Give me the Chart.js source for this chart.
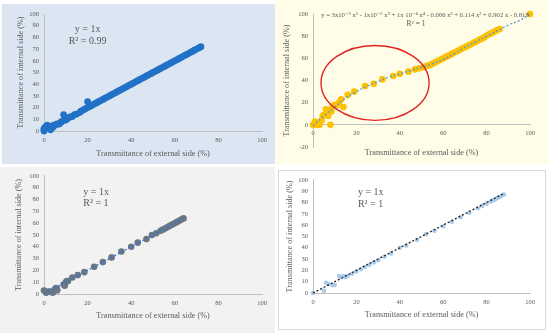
<!DOCTYPE html>
<html>
<head>
<meta charset="utf-8">
<script src="https://cdn.jsdelivr.net/npm/chart.js@4"></script>
<style>
  body { margin: 0; width: 550px; height: 335px; background: #fff; position: relative; overflow: hidden; }
  .panel { position: absolute; box-sizing: border-box; }
  .panel canvas { position: absolute; left: 0; top: 0; }
</style>
</head>
<body>
<div class="panel" style="left:2px;top:4px;width:273px;height:160px;background:#dce6f2;"><canvas id="c1" width="273" height="160"></canvas></div>
<div class="panel" style="left:275px;top:0px;width:273px;height:164px;background:#fffde8;"><canvas id="c2" width="273" height="164"></canvas></div>
<div class="panel" style="left:0px;top:167px;width:275px;height:166px;background:#f2f2f2;"><canvas id="c3" width="275" height="166"></canvas></div>
<div class="panel" style="left:278px;top:170px;width:268px;height:160px;background:#fff;border:1px solid #d9d9d9;"><canvas id="c4" width="266" height="158"></canvas></div>
<script>
// panel 1 (blue background)
const p1Ext = [0, 0, 0, 0.5, 1, 1.5, 2, 2.5, 3, 3, 3.5, 4, 4.5, 5, 6, 7, 7.5, 8, 9, 9, 10, 11, 12, 13, 14, 15, 16.5, 17, 18, 19, 20, 20, 21,
  22, 23, 24, 25, 26, 27, 28, 29, 30, 31, 32, 33, 34, 35, 36, 37, 38, 39, 40, 41, 42, 43, 44, 45, 46, 47,
  48, 49, 50, 51, 52, 53, 54, 55, 56, 57, 58, 59, 60, 61, 62, 63, 64, 65, 66, 67, 68, 69, 70, 71, 72];
const p1Int = [0, 1, 2, 3, 4, 5, 3, 4, 1, 2, 4, 3, 5, 5, 6, 6, 7, 8, 14, 9, 9.5, 11, 12, 12.5, 14, 14.5, 16, 17, 18, 19, 25, 20, 21,
  22, 23, 24, 25, 26, 27, 28, 29, 30, 31, 32, 33, 34, 35, 36, 37, 38, 39, 40, 41, 42, 43, 44, 45, 46, 47,
  48, 49, 50, 51, 52, 53, 54, 55, 56, 57, 58, 59, 60, 61, 62, 63, 64, 65, 66, 67, 68, 69, 70, 71, 72];

// panel 2 (yellow background)
const p2Ext = [0, 1, 1.5, 2, 2.5, 3, 4, 4.5, 5, 6, 6.5, 7, 7.5, 8, 8.5, 9, 9.5, 10, 11, 12, 13, 14, 16, 19, 24, 28, 32, 37, 40, 44, 47, 49, 51, 52,
  53, 54, 55, 56, 57, 58, 59, 60, 61, 62, 63, 64, 65, 66, 67, 68, 69, 70, 71, 72, 73, 74, 75, 76, 77, 78, 79, 80, 81, 82, 83, 84, 85, 86, 100];
const p2Int = [0, 3, 0, 0, 1, 0, 4, 8, 9, 14, 12, 8, 13, 0, 12, 16, 17, 18, 18, 20, 23, 16, 27, 30, 35, 37, 41, 44, 46, 48, 50, 51, 52, 53,
  53.5, 54, 55, 56, 57, 58, 59, 60, 61, 62, 63, 64, 65, 66, 67, 68, 69, 70, 71, 72, 73, 74, 75, 76, 77, 78, 79, 80.5, 81.5, 82.5, 83.5, 84.5, 85.5, 86.5, 100];
const p2TrendExt = [0, 5, 10, 15, 20, 25, 30, 35, 40, 45, 50, 55, 60, 65, 70, 75, 80, 85, 90, 95, 100];
const p2TrendInt = [-1, 8, 16, 24, 30, 35, 39, 43, 46, 49, 52, 55, 59, 64, 70, 75, 80, 85, 90, 94, 100];

// panel 3 (grey background)
const p3Ext = [0, 1, 2, 3, 4, 5, 5.5, 6, 6, 9, 9.5, 10, 10.5, 11, 13, 15.5, 18.5, 23, 27, 31, 35.5, 40, 43, 47, 49.5, 51.5,
  53.5, 54.5, 55.5, 56.5, 57.5, 58.5, 59.5, 60.5, 61, 62, 63, 64];
const p3Int = [3, 1, 2, 2, 1, 4, 5, 3, 4, 8, 7, 10, 11, 11, 14, 16, 18.5, 23, 27, 31, 36, 40, 43.5, 46.5, 50, 51.5,
  53.5, 54.5, 55.5, 56.5, 57.5, 58.5, 59.5, 60.5, 61, 62, 63, 64];
const p3TrendExt = [0, 64];
const p3TrendInt = [0, 64];

// panel 4 (white background)
const p4Ext = [0, 5, 6, 7, 9, 10, 12, 13, 14, 15, 16, 18, 20, 22, 24, 26, 28, 30, 33, 36, 40, 43, 48, 52, 56, 60, 64, 68, 72, 76, 78, 80, 82, 83, 84, 85, 86, 87, 88];
const p4Int = [0, 2, 9, 8, 7, 7, 15, 14, 15, 14, 15, 17, 19, 21, 23, 25, 27, 29, 32, 35, 40, 42, 47, 52, 55, 59, 63, 67, 71, 75, 77, 79, 81, 82, 83, 84, 85, 86, 87];
const p4TrendExt = [0, 88];
const p4TrendInt = [0, 88];

const xTitle = "Transmittance of external side (%)";
const yTitle = "Transmittance of internal side (%)";
const eqText = "y = 3x10⁻⁹ x⁶ - 1x10⁻⁶ x⁵ + 1x 10⁻⁴ x⁴ - 0.006 x³ + 0.114 x² + 0.902 x - 0.818";

const SERIF = "'Liberation Serif', 'DejaVu Serif', serif";
const GREY = "#595959";
const AXIS = "#bfbfbf";

const toPoints = (xs, ys) => xs.map((x, i) => ({ x, y: ys[i] }));

const noteText = (notes) => ({
  id: "notes",
  afterDatasetsDraw(chart) {
    const { ctx, scales } = chart;
    ctx.save();
    ctx.fillStyle = GREY;
    ctx.textBaseline = "middle";
    notes.forEach((n) => {
      ctx.font = `${n.size}px ${SERIF}`;
      if (n.width) {
        const w = ctx.measureText(n.text).width;
        ctx.font = `${n.size * n.width / w}px ${SERIF}`;
      }
      ctx.textAlign = n.align || "center";
      ctx.fillText(n.text, scales.x.getPixelForValue(n.x), scales.y.getPixelForValue(n.y));
    });
    ctx.restore();
  },
});

const ellipse = (cx, cy, rx, ry) => ({
  id: "ellipse",
  afterDatasetsDraw(chart) {
    const { ctx, scales } = chart;
    const px = scales.x.getPixelForValue(cx);
    const py = scales.y.getPixelForValue(cy);
    const prx = Math.abs(scales.x.getPixelForValue(cx + rx) - px);
    const pry = Math.abs(scales.y.getPixelForValue(cy + ry) - py);
    ctx.save();
    ctx.strokeStyle = "#e02424";
    ctx.lineWidth = 1.4;
    ctx.beginPath();
    ctx.ellipse(px, py, prx, pry, 0, 0, Math.PI * 2);
    ctx.stroke();
    ctx.restore();
  },
});

const axisBase = () => ({
  grid: { display: true, drawOnChartArea: false, drawTicks: false, color: AXIS },
  border: { display: true, color: AXIS, width: 1 },
  ticks: { color: GREY, font: { family: SERIF, size: 6.5 }, padding: 5 },
  title: { display: true, color: GREY, font: { family: SERIF, size: 8.2 } },
});

const buildChart = (id, o) => {
  const x = axisBase();
  Object.assign(x, { type: "linear", min: 0, max: 100 });
  x.ticks.stepSize = 20;
  x.title.text = xTitle;
  x.title.padding = { top: 0, bottom: o.xtp };
  x.afterFit = (s) => { s.height = o.xh; };
  const y = axisBase();
  Object.assign(y, { type: "linear", min: o.ymin, max: 100 });
  y.ticks.stepSize = o.ystep;
  y.title.text = yTitle;
  y.title.padding = { top: o.ytp, bottom: 0 };
  y.afterFit = (s) => { s.width = o.yw; };
  const scales = { x, y };
  if (o.crossAtZero) {
    // x axis drawn at y = 0, its title kept at the bottom edge
    x.position = { y: 0 };
    x.title.display = false;
    scales.x2 = {
      type: "linear", min: 0, max: 100, position: "bottom",
      grid: { display: false }, border: { display: false }, ticks: { display: false },
      title: { display: true, text: xTitle, color: GREY, font: { family: SERIF, size: 8.2 }, padding: { top: 0, bottom: o.xtp } },
      afterFit: (s) => { s.height = o.xh; },
    };
  }
  return new Chart(document.getElementById(id), {
    type: "scatter",
    data: { datasets: o.datasets.map((d) => ({ clip: false, ...d })) },
    options: {
      responsive: false,
      animation: false,
      layout: { padding: o.pad },
      plugins: { legend: { display: false }, tooltip: { enabled: false } },
      scales,
    },
    plugins: o.plugins,
  });
};

buildChart("c1", {
  ymin: 0, ystep: 10, xh: 33, yw: 42, xtp: 5, ytp: 14, pad: { top: 10, right: 13, left: 0, bottom: 0 },
  datasets: [{
    data: toPoints(p1Ext, p1Int),
    backgroundColor: "#2171c7", borderColor: "#2171c7", pointRadius: 3.4, borderWidth: 0,
  }],
  plugins: [noteText([
    { text: "y = 1x", x: 20, y: 87, size: 10 },
    { text: "R² = 0.99", x: 20, y: 77, size: 10 },
  ])],
});

buildChart("c2", {
  ymin: -20, ystep: 20, xh: 17, yw: 38, xtp: 6, ytp: 7, crossAtZero: true, pad: { top: 14, right: 18, left: 0, bottom: 0 },
  datasets: [
    {
      data: toPoints(p2TrendExt, p2TrendInt), showLine: true, pointRadius: 0,
      borderColor: "#4f9be0", borderWidth: 1.3, borderDash: [2, 2], tension: 0.4, order: 0,
    },
    {
      data: toPoints(p2Ext, p2Int),
      backgroundColor: "#ffc000", borderColor: "#ffc000", pointRadius: 3.3, borderWidth: 0, order: 1,
    },
  ],
  plugins: [
    noteText([
      { text: eqText, x: 51.6, y: 99, size: 8, width: 208 },
      { text: "R² = 1", x: 47.5, y: 91, size: 7.5 },
    ]),
    ellipse(28.6, 37.8, 24.9, 33.8),
  ],
});

buildChart("c3", {
  ymin: 0, ystep: 10, xh: 39, yw: 44, xtp: 12, ytp: 14, pad: { top: 8, right: 13, left: 0, bottom: 0 },
  datasets: [
    {
      data: toPoints(p3TrendExt, p3TrendInt), showLine: true, pointRadius: 0,
      borderColor: "#2e75d6", borderWidth: 1.3, borderDash: [2, 2], order: 0,
    },
    {
      data: toPoints(p3Ext, p3Int),
      backgroundColor: "#6b7784", borderColor: "#6b7784", pointRadius: 3.3, borderWidth: 0, order: 1,
    },
  ],
  plugins: [noteText([
    { text: "y = 1x", x: 18, y: 86, size: 10, align: "left" },
    { text: "R² = 1", x: 18, y: 76.5, size: 10, align: "left" },
  ])],
});

buildChart("c4", {
  ymin: 0, ystep: 10, xh: 36, yw: 34, xtp: 9, ytp: 6, pad: { top: 4, right: 15, left: 0, bottom: 0 },
  datasets: [
    {
      data: toPoints(p4TrendExt, p4TrendInt), showLine: true, pointRadius: 0,
      borderColor: "#222", borderWidth: 1.3, borderDash: [2, 2], order: 0,
    },
    {
      data: toPoints(p4Ext, p4Int),
      backgroundColor: "#a9cbeb", borderColor: "#a9cbeb", pointRadius: 2.3, borderWidth: 0, order: 1,
    },
  ],
  plugins: [noteText([
    { text: "y = 1x", x: 20.7, y: 89, size: 10, align: "left" },
    { text: "R² = 1", x: 20.7, y: 78, size: 10, align: "left" },
  ])],
});
</script>
</body>
</html>
